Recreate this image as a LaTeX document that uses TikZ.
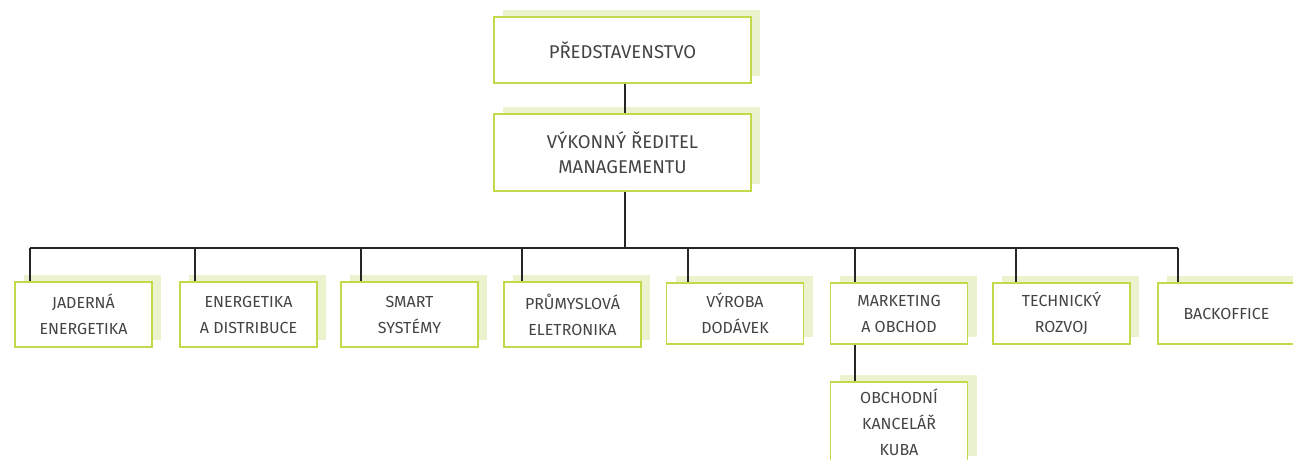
\documentclass[tikz,border=0pt]{standalone}
\usepackage{fontspec}
\setmainfont{Fira Sans}
\usetikzlibrary{shadows}
\definecolor{boxgreen}{HTML}{C3D949}
\definecolor{shadegreen}{HTML}{EBF2CE}
\definecolor{textgray}{HTML}{444444}

\begin{document}
\begin{tikzpicture}[x=1pt, y=-1pt,
  unit/.style={draw=boxgreen, line width=1.6pt, fill=white, inner sep=0pt, align=center,
    text=textgray, minimum width=137pt, minimum height=65pt,
    general shadow={fill=shadegreen, shadow xshift=9pt, shadow yshift=7pt},
    font=\fontsize{16}{26}\selectfont},
  unitlow/.style={unit, minimum height=61pt},
  head/.style={unit, minimum width=257pt, font=\fontsize{18.5}{25}\selectfont},
  link/.style={line width=1.4pt, color=black!85}]
	\clip (0,0) rectangle (1293,460);
	\fill[white] (0,0) rectangle (1293,460);
	\node[head, minimum height=66pt] (pred) at (622.5,50) {PŘEDSTAVENSTVO};
	\node[head, minimum height=77pt] (vyk) at (622.5,152.5) {VÝKONNÝ ŘEDITEL\\MANAGEMENTU};
	\node[unit] (jad) at (83.5,314.5) {JADERNÁ\\ENERGETIKA};
	\node[unit] (ener) at (248.5,314.5) {ENERGETIKA\\A DISTRIBUCE};
	\node[unit] (smart) at (409.5,314.5) {SMART\\SYSTÉMY};
	\node[unit] (prum) at (572.5,314.5) {PRŮMYSLOVÁ\\ELETRONIKA};
	\node[unitlow] (vyr) at (735,313.5) {VÝROBA\\DODÁVEK};
	\node[unitlow] (mark) at (899,313.5) {MARKETING\\A OBCHOD};
	\node[unitlow] (tech) at (1061.5,313.5) {TECHNICKÝ\\ROZVOJ};
	\node[unitlow] (back) at (1226.5,313.5) {BACKOFFICE};
	\node[unit, minimum height=81pt] (kuba) at (899,422.5) {OBCHODNÍ\\KANCELÁŘ\\KUBA};
	\coordinate (top) at (625,248);
	\coordinate (b1) at (30,248);
	\coordinate (b2) at (195,248);
	\coordinate (b3) at (361,248);
	\coordinate (b4) at (522,248);
	\coordinate (b5) at (688,248);
	\coordinate (b6) at (855,248);
	\coordinate (b7) at (1016,248);
	\coordinate (b8) at (1178,248);
	\draw[link] (pred.south -| top) -- (vyk.north -| top);
	\draw[link] (vyk.south -| top) -- (top);
	\draw[link] (b1) -- (b8);
	\draw[link] (b1) -- (b1 |- jad.north);
	\draw[link] (b2) -- (b2 |- ener.north);
	\draw[link] (b3) -- (b3 |- smart.north);
	\draw[link] (b4) -- (b4 |- prum.north);
	\draw[link] (b5) -- (b5 |- vyr.north);
	\draw[link] (b6) -- (b6 |- mark.north);
	\draw[link] (b7) -- (b7 |- tech.north);
	\draw[link] (b8) -- (b8 |- back.north);
	\draw[link] (mark.south -| b6) -- (kuba.north -| b6);
\end{tikzpicture}
\end{document}
